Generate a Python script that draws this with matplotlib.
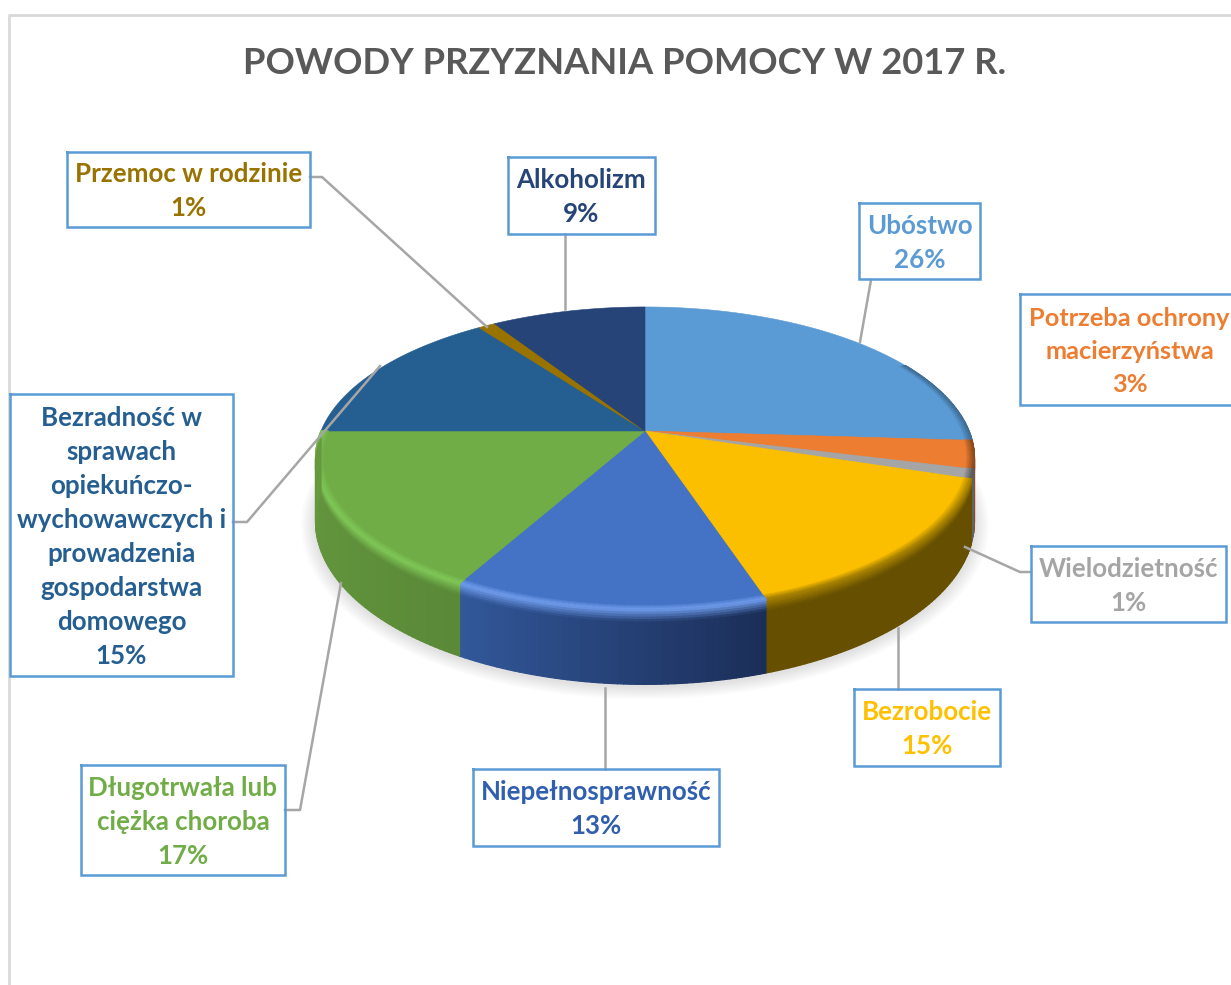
import numpy as np
import matplotlib
matplotlib.use("Agg")
import matplotlib.pyplot as plt
from matplotlib.collections import PolyCollection
from matplotlib.colors import to_rgb

plt.rcParams["font.family"] = ["Lato", "DejaVu Sans"]

TITLE = "POWODY PRZYZNANIA POMOCY W 2017 R."

labels = [
    "Ubóstwo",
    "Potrzeba ochrony\nmacierzyństwa",
    "Wielodzietność",
    "Bezrobocie",
    "Niepełnosprawność",
    "Długotrwała lub\nciężka choroba",
    "Bezradność w\nsprawach\nopiekuńczo-\nwychowawczych i\nprowadzenia\ngospodarstwa\ndomowego",
    "Przemoc w rodzinie",
    "Alkoholizm",
]
values = [26, 3, 1, 15, 13, 17, 15, 1, 9]
colors = ["#5B9BD5", "#ED7D31", "#A5A5A5", "#FBBF00", "#4472C4", "#70AD47", "#255E91", "#997300", "#264478"]
text_colors = ["#5B9BD5", "#ED7D31", "#A5A5A5", "#FFC000", "#2F5FAE", "#70AD47", "#255E91", "#997300", "#264478"]
rim_colors = ["#3F6D96", "#8A4A1E", "#5A5A5A", "#A88200", "#6F9CEC", "#80C858", "#255E91", "#665000", "#264478"]
side_start = ["#3A6A94", "#8F4B1D", "#636363", "#665000", "#32589A", "#67993F", "#255E91", "#665000", "#264478"]
side_end = ["#3A6A94", "#8F4B1D", "#636363", "#665000", "#1B2E58", "#5A8A38", "#255E91", "#665000", "#264478"]

# layout, in pixels of the 1231x985 picture
boxes = [
    (859, 203, 980, 279), (1020, 294, 1245, 405), (1031, 546, 1226, 622),
    (854, 689, 1000, 766), (473, 769, 719, 846), (81, 765, 285, 875),
    (10, 394, 233, 676), (67, 152, 310, 227), (508, 157, 655, 234),
]
leaders = [
    [(871, 280), (860, 342)],
    [],
    [(1031, 572), (1020, 572), (965, 547)],
    [(898, 689), (898, 628)],
    [(605, 769), (605, 688)],
    [(285, 810), (300, 810), (341, 583)],
    [(233, 522), (247, 522), (380, 366)],
    [(310, 177), (322, 177), (487, 327)],
    [(565, 234), (565, 309)],
]

CX, CY = 645, 431
RX, RY = 324, 146.5
PERSP = 0.181
DEPTH = 61


def project(theta, r=1.0, depth=0.0):
    # unit disc seen in perspective, theta runs clockwise from 12 o'clock
    u = r * np.sin(theta)
    v = r * np.cos(theta)
    s = 1 / (1 + PERSP * v)
    return CX + RX * u * s, CY - RY * v * s + depth * s


def mix(a, b, t):
    a, b = np.array(to_rgb(a)), np.array(to_rgb(b))
    return tuple(a + (b - a) * t)


def draw_side(ax, bounds):
    quads, faces = [], []
    for i in range(len(values)):
        th = np.linspace(bounds[i], bounds[i + 1], max(4, values[i] * 4))
        for j in range(len(th) - 1):
            if not np.pi / 3 < th[j] < 1.5 * np.pi - 0.001:
                continue
            t = j / max(1, len(th) - 2)
            base = mix(side_end[i], side_start[i], t)
            # rows: (r, depth, colour)
            rows = [(0.975, 0, colors[i]), (1.0, 0, rim_colors[i]), (1.0, 10, base), (1.0, DEPTH, base)]
            for a, b in zip(rows[:-1], rows[1:]):
                steps = 5 if a[2] != b[2] else 1
                for k in range(steps):
                    t0, t1 = k / steps, (k + 1) / steps
                    r0, r1 = a[0] + (b[0] - a[0]) * t0, a[0] + (b[0] - a[0]) * t1
                    d0, d1 = a[1] + (b[1] - a[1]) * t0, a[1] + (b[1] - a[1]) * t1
                    x0, y0 = project(th[j], r0, d0)
                    x1, y1 = project(th[j + 1], r0, d0)
                    x2, y2 = project(th[j + 1], r1, d1)
                    x3, y3 = project(th[j], r1, d1)
                    quads.append([(x0, y0), (x1, y1), (x2, y2), (x3, y3)])
                    faces.append(mix(a[2], b[2], (t0 + t1) / 2))
    ax.add_collection(PolyCollection(quads, facecolors=faces, edgecolors=faces, linewidths=0.9, zorder=4))


def main():
    fig = plt.figure(figsize=(12.31, 9.85), dpi=100)
    ax = fig.add_axes([0, 0, 1, 1])
    ax.set_xlim(0, 1231)
    ax.set_ylim(985, 0)
    ax.axis("off")

    # chart frame
    ax.plot([1231, 9, 9], [15, 15, 985], color="#D9D9D9", lw=2, zorder=1)

    ax.text(625, 64, TITLE, ha="center", va="center", fontsize=26.2, fontweight="bold", color="#595959")

    bounds = np.radians(np.concatenate([[0], np.cumsum(values)]) / sum(values) * 360)

    # soft shadow under the pie
    th = np.linspace(0, 2 * np.pi, 240)
    for grow in np.arange(15, 0, -1):
        x, y = project(th, 1.0, DEPTH + 2)
        x = CX + (x - CX) * (1 + grow / 330)
        y = (CY + 60) + (y - (CY + 60)) * (1 + grow / 230)
        ax.fill(x, y, color="#000000", alpha=0.008, lw=0, zorder=2)

    # top faces first, the rim and side strips cover their edge
    for i in range(len(values)):
        th = np.linspace(bounds[i], bounds[i + 1], max(3, values[i] * 6))
        x, y = project(th)
        ax.fill(np.r_[CX, x], np.r_[CY, y], facecolor=colors[i], edgecolor=colors[i], lw=0.4, zorder=3)

    draw_side(ax, bounds)
    # the side of the far half must stay behind the top face
    for i in range(len(values)):
        th = np.linspace(bounds[i], bounds[i + 1], max(3, values[i] * 6))
        x, y = project(th, 0.975)
        ax.fill(np.r_[CX, x], np.r_[CY, y], facecolor=colors[i], edgecolor=colors[i], lw=0.4, zorder=5)

    for i, (x0, y0, x1, y1) in enumerate(boxes):
        ax.plot([x0, x1, x1, x0, x0], [y0, y0, y1, y1, y0], color="#5B9BD5", lw=1.8, zorder=7,
                solid_joinstyle="miter")
        # the orange label sits close to the right edge of the picture
        tx = (x0 + x1) / 2 if i != 1 else 1129.5
        size = 18.6 if i != 1 else 18.3
        ax.text(tx, (y0 + y1) / 2 + 2, f"{labels[i]}\n{values[i]}%",
                ha="center", va="center", fontsize=size, fontweight="bold", color=text_colors[i],
                linespacing=1.5, zorder=8)
        if leaders[i]:
            xs, ys = zip(*leaders[i])
            ax.plot(xs, ys, color="#A6A6A6", lw=1.8, zorder=6)

    fig.savefig("out.png", dpi=100)
    plt.close(fig)


if __name__ == "__main__":
    main()
